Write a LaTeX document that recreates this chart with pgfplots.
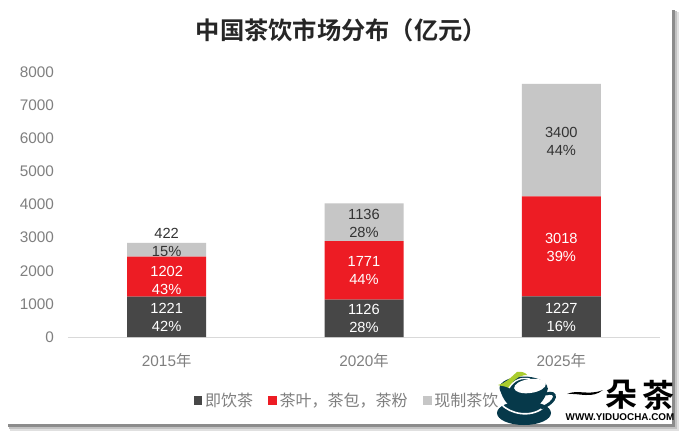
\documentclass[border=0pt]{standalone}
\usepackage{fontspec}
\usepackage{pgfplots}
\pgfplotsset{compat=1.18}
\setmainfont{Liberation Sans}
\newfontfamily\cjk{Noto Sans CJK SC}
\newfontfamily\cjkb{Noto Sans CJK SC Bold}
\definecolor{teadark}{HTML}{474747}
\definecolor{teared}{HTML}{ED1C24}
\definecolor{teagray}{HTML}{C6C6C6}
\definecolor{ticktxt}{HTML}{7F7F7F}
\definecolor{logoteal}{HTML}{06394A}
\definecolor{logogreen}{HTML}{A9CC2E}
\begin{document}
\begin{tikzpicture}
% card and its shadow, in reference pixels
\begin{scope}[x=0.75pt,y=-0.75pt,shift={(-68,-337)}]
  \fill[white] (0,0) rectangle (685,437);
  \fill[black!12] (10,12) rectangle (679,431);
  \fill[black!24] (9,11) rectangle (677,429);
  \fill[black!45] (8,10) rectangle (675,427);
  \fill[white] (5,5) rectangle (672,424);
\end{scope}
\begin{axis}[
    at={(0,0)}, anchor=south west,
    scale only axis,
    width=444pt, height=198.75pt,
    ybar stacked,
    bar width=59.25pt,
    xmin=-0.5, xmax=2.5,
    ymin=0, ymax=8000,
    xtick=data,
    xticklabels={2015{\cjk 年},2020{\cjk 年},2025{\cjk 年}},
    ytick={0,1000,...,8000},
    scaled y ticks=false,
    axis lines*=left,
    axis line style={-},
    y axis line style={draw=none},
    x axis line style={draw=black!15,line width=0.75pt},
    major tick length=0pt,
    tick label style={font=\fontsize{11.5}{13}\selectfont,text=ticktxt,
      /pgf/number format/assume math mode=true},
    xticklabel style={yshift=-9pt},
    yticklabel style={/pgf/number format/1000 sep={},xshift=-7pt},
    visualization depends on={value \thisrow{p} \as \pct},
    visualization depends on={value \thisrow{y} \as \val},
    visualization depends on={\thisrow{s} \as \shf},
    nodes near coords={\val\\\pct\%},
    % stacked bars put the node at the segment's middle; s is an offset from it
    nodes near coords style={font=\fontsize{11}{13.5}\selectfont,align=center,
      anchor=center,yshift=\shf*0.75pt},
    title={\cjkb 中国茶饮市场分布（亿元）},
    title style={font=\fontsize{18.2}{20}\selectfont,text=black!85,
      at={(0.5,1)},anchor=center,xshift=-17pt,yshift=25.5pt},
    legend columns=3,
    legend style={draw=none,fill=none,at={(209.5pt,-48pt)},anchor=center,
      font=\fontsize{12}{13}\selectfont\cjk,text=ticktxt,
      /tikz/every even column/.append style={column sep=9.5pt}},
    legend image code/.code={\fill[#1] (0pt,-3pt) rectangle (6.5pt,3.5pt);},
    clip=false
  ]
  \addplot[fill=teadark,draw=none,nodes near coords style={text=white}] table {
    x y p s
    0 1221 42 -1
    1 1126 28 0
    2 1227 16 -1
  };
  \addplot[fill=teared,draw=none,nodes near coords style={text=white}] table {
    x y p s
    0 1202 43 -4
    1 1771 44 0
    2 3018 39 -1
  };
  \addplot[fill=teagray,draw=none,nodes near coords style={text=black!80}] table {
    x y p s
    0 422 15 7
    1 1136 28 -1
    2 3400 44 -1
  };
  \legend{即饮茶,{茶叶，茶包，茶粉},现制茶饮}
\end{axis}
% site logo over the lower right corner
\begin{scope}[x=0.75pt,y=-0.75pt,shift={(-68,-337)}]
  \fill[logoteal] (524,413) ellipse [x radius=27,y radius=12];
  \draw[white,line width=1.2pt] (501,404) .. controls (510,414) and (530,418) .. (543,408);
  \draw[logoteal,line width=2.2pt] (546,394) .. controls (558,390) and (558,402) .. (541,408);
  \fill[logoteal] (500,389) .. controls (502,399) and (510,411) .. (524,411)
    .. controls (537,411) and (546,399) .. (548,388) -- cycle;
  \fill[logoteal] (523.5,388) ellipse [x radius=24,y radius=11.5];
  \fill[white,rotate around={8:(530,386)}] (530,386) ellipse [x radius=16,y radius=7];
  \fill[logogreen] (498,385) .. controls (506,383) and (510,378) .. (517,372)
    .. controls (522,371) and (526,373) .. (527,375)
    .. controls (518,375) and (512,382) .. (509,388)
    .. controls (505,386) and (501,386) .. (498,385) -- cycle;
  \draw[white,line width=1pt] (509,388) .. controls (514,380) and (521,377) .. (530,379);
  \fill[black] (567,394) .. controls (578,389) and (588,396) .. (603,390)
    .. controls (592,399) and (580,393) .. (567,394) -- cycle;
  \node[font=\fontsize{24}{24}\selectfont\cjkb,text=black,anchor=center,inner sep=0pt] at (621,395) {朵};
  \node[font=\fontsize{24}{24}\selectfont\cjkb,text=black,anchor=center,inner sep=0pt] at (658,395) {茶};
  \node[font=\fontsize{7.4}{8}\selectfont\bfseries,text=black,anchor=center,inner sep=0pt] at (620,417) {WWW.YIDUOCHA.COM};
\end{scope}
\end{tikzpicture}
\end{document}
